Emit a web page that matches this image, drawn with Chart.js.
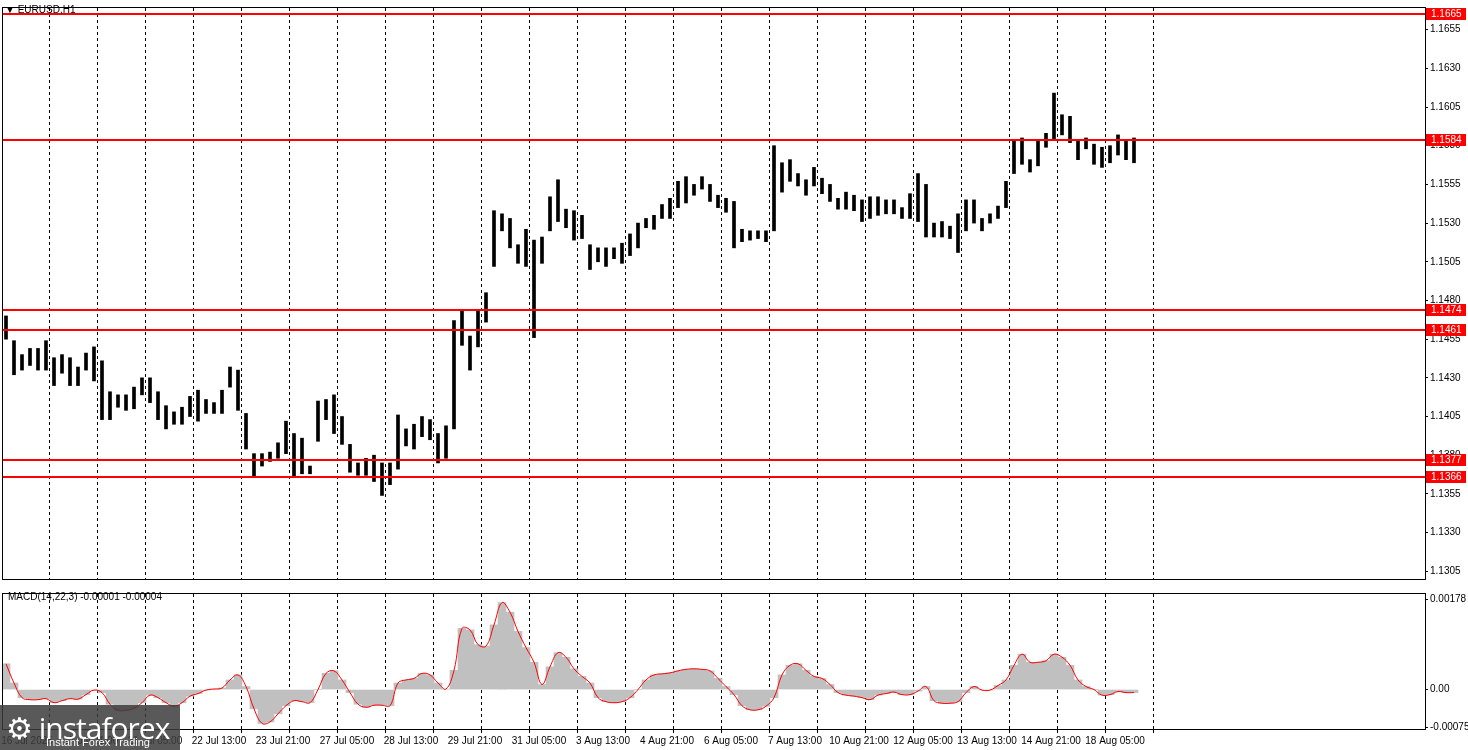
<!DOCTYPE html>
<html><head><meta charset="utf-8">
<script src="https://cdn.jsdelivr.net/npm/chart.js@4/dist/chart.umd.min.js"></script>
<style>
body{margin:0;background:#fff;width:1468px;height:750px;overflow:hidden;position:relative;font-family:"Liberation Sans",Arial,sans-serif}
#p1{position:absolute;left:0;top:0;width:1468px;height:587px}
#p2{position:absolute;left:0;top:586px;width:1468px;height:164px}
.t{position:absolute;font-size:10px;color:#000}
#logo{position:absolute;left:0;top:705px;width:180px;height:45px;background:rgba(60,60,60,0.85);color:#fff}
</style></head><body>
<div id="p1"><canvas id="c1"></canvas></div>
<div id="p2"><canvas id="c2"></canvas></div>
<div class="t" style="left:5px;top:4px">▼ EURUSD,H1</div>
<div class="t" style="left:8px;top:591px">MACD(14,22,3) -0.00001 -0.00004</div>
<div id="logo"><div style="position:absolute;left:6px;top:2px;font-size:30px;letter-spacing:-1px;font-family:'Open Sans',sans-serif">⚙ instaforex</div><div style="position:absolute;left:46px;top:31px;font-size:11px">Instant Forex Trading</div></div>
<script>
const highs=[1.1470,1.1454,1.1445,1.1449,1.1449,1.1454,1.1443,1.1445,1.1443,1.1437,1.1446,1.1450,1.1441,1.1421,1.1419,1.1419,1.1424,1.1430,1.1430,1.1421,1.1412,1.1408,1.1411,1.1418,1.1422,1.1416,1.1414,1.1422,1.1437,1.1435,1.1407,1.1381,1.1381,1.1382,1.1388,1.1402,1.1394,1.1391,1.1373,1.1415,1.1416,1.1419,1.1405,1.1387,1.1375,1.1378,1.1380,1.1375,1.1375,1.1406,1.1397,1.1400,1.1405,1.1403,1.1394,1.1399,1.1467,1.1474,1.1457,
1.1473,1.1485,1.1538,1.1536,1.1533,1.1516,1.1526,1.1519,1.1521,1.1547,1.1558,1.1539,1.1538,1.1535,1.1516,1.1514,1.1514,1.1514,1.1517,1.1523,1.1530,1.1533,1.1535,1.1542,1.1546,1.1557,1.1560,1.1555,1.1560,1.1555,1.1548,1.1546,1.1544,1.1526,1.1525,1.1525,1.1525,1.1580,1.1569,1.1571,1.1562,1.1558,1.1566,1.1559,1.1555,1.1546,
1.1550,1.1548,1.1545,1.1547,1.1547,1.1545,1.1545,1.1540,1.1549,1.1562,1.1555,1.1530,1.1531,1.1528,1.1536,1.1545,1.1545,1.1533,1.1536,1.1541,1.1557,1.1584,1.1585,1.1571,1.1583,1.1588,1.1614,1.1600,1.1599,1.1583,1.1585,1.1581,1.1579,1.1580,1.1587,1.1584,1.1585];
const lows=[1.1455,1.1432,1.1435,1.1438,1.1435,1.1435,1.1425,1.1433,1.1425,1.1425,1.1435,1.1428,1.1403,1.1403,1.1411,1.1409,1.1410,1.1419,1.1414,1.1403,1.1397,1.1400,1.1400,1.1405,1.1402,1.1407,1.1407,1.1407,1.1424,1.1409,1.1384,1.1366,1.1373,1.1376,1.1378,1.1381,1.1366,1.1368,1.1368,1.1389,1.1403,1.1394,1.1387,1.1369,1.1367,1.1367,1.1363,1.1354,1.1361,1.1371,1.1386,1.1384,1.1392,1.1390,1.1375,1.1378,1.1397,1.1451,1.1435,
1.1450,1.1466,1.1502,1.1525,1.1514,1.1504,1.1502,1.1456,1.1504,1.1525,1.1531,1.1527,1.1519,1.1520,1.1500,1.1505,1.1502,1.1507,1.1504,1.1509,1.1514,1.1527,1.1526,1.1533,1.1533,1.1540,1.1543,1.1548,1.1552,1.1544,1.1540,1.1537,1.1514,1.1518,1.1519,1.1520,1.1518,1.1525,1.1550,1.1557,1.1554,1.1548,1.1554,1.1549,1.1544,1.1539,
1.1539,1.1538,1.1531,1.1533,1.1535,1.1536,1.1536,1.1533,1.1533,1.1531,1.1521,1.1521,1.1521,1.1520,1.1511,1.1525,1.1530,1.1525,1.1530,1.1533,1.1540,1.1562,1.1568,1.1563,1.1567,1.1579,1.1584,1.1587,1.1582,1.1571,1.1578,1.1568,1.1566,1.1569,1.1574,1.1571,1.1569];
const macd=[51,13,-16,-20,-20,-18,-26,-22,-18,-19,-10,-1,-6,-29,-41,-41,-37,-26,-11,-16,-26,-33,-26,-13,-8,-1,1,3,19,29,6,-38,-67,-64,-48,-32,-22,-24,-26,0,32,37,19,-6,-29,-35,-31,-31,-32,13,19,22,32,29,13,1,38,121,118,89,86,128,172,153,115,83,54,10,45,73,64,41,26,13,-16,-24,-26,-24,-16,0,19,29,31,33,37,40,41,40,37,22,6,-10,
-32,-40,-40,-33,-16,29,48,51,38,26,22,10,-6,-11,-13,-16,-20,-11,-8,-5,-10,-10,-3,6,-22,-27,-27,-24,-6,6,-1,-1,8,19,48,70,54,54,57,70,64,48,19,6,0,-11,-10,-4,-6,-6];
const levels=[1.1665,1.1584,1.1474,1.1461,1.1377,1.1366];
const priceTicks=[1.1305,1.1330,1.1355,1.1380,1.1405,1.1430,1.1455,1.1480,1.1505,1.1530,1.1555,1.1580,1.1605,1.1630,1.1655];
const macdTicks=[-0.00075,0,0.00178];
const dateLabels=["16 Jul 2025","17 Jul 21:00","21 Jul 05:00","22 Jul 13:00","23 Jul 21:00","27 Jul 05:00","28 Jul 13:00","29 Jul 21:00","31 Jul 05:00","3 Aug 13:00","4 Aug 21:00","6 Aug 05:00","7 Aug 13:00","10 Aug 21:00","12 Aug 05:00","13 Aug 13:00","14 Aug 21:00","18 Aug 05:00"];
const labelStart=12, labelStep=32, gridStart=11, gridStep=24, gridCount=25, barStep=4;

const gridIdx=[];for(let k=0;k<gridCount;k++)gridIdx.push(gridStart+k*gridStep);
const labIdx=dateLabels.map((_,k)=>labelStart+k*labelStep);
const F={family:"Liberation Sans",size:10};
const frame={id:'frame',afterDraw(c){const a=c.chartArea,x=c.ctx;x.save();x.strokeStyle='#000';x.lineWidth=1;x.strokeRect(a.left-0.5,a.top-0.5,a.right-a.left+1,a.bottom-a.top+1);x.restore();}};
const lvl={id:'lvl',afterDatasetsDraw(c){const a=c.chartArea,x=c.ctx,s=c.scales.y;x.save();x.strokeStyle='#ff0000';x.lineWidth=2;
 levels.forEach(v=>{const y=Math.round(s.getPixelForValue(v));x.beginPath();x.moveTo(a.left,y);x.lineTo(a.right,y);x.stroke();});x.restore();},
 afterDraw(c){const a=c.chartArea,x=c.ctx,s=c.scales.y;x.save();x.font="10px Liberation Sans";x.textBaseline='middle';
 levels.forEach(v=>{const y=Math.round(s.getPixelForValue(v));x.fillStyle='#ff0000';x.fillRect(a.right+1,y-6,40,12);x.fillStyle='#fff';x.fillText(v.toFixed(4),a.right+6,y+0.5);});x.restore();}};
const xCommon=(ticksArr,showLab)=>({type:'linear',min:0,max:711,offset:false,
 afterBuildTicks:s=>{s.ticks=ticksArr.map(v=>({value:v}));},
 grid:{color:ctx=>gridIdx.includes(ctx.tick&&ctx.tick.value)?'#000':'rgba(0,0,0,0)',lineWidth:1,tickLength:showLab?4:0,drawTicks:showLab},
 border:{display:false,dash:[3,3]},
 ticks:{display:showLab,autoSkip:false,maxRotation:0,font:F,color:'#000',padding:2,
   callback:v=>{const k=labIdx.indexOf(v);return k>=0?dateLabels[k]:'';}}});
function dashGrid(o){o.grid.borderDash=[3,3];return o;}
const bars=highs.map((h,k)=>({x:k*barStep+1.5,y:[lows[k],h]}));
new Chart(document.getElementById('c1'),{type:'bar',
 data:{datasets:[{data:bars,backgroundColor:'#000',barThickness:3,grouped:false}]},
 options:{animation:false,responsive:true,maintainAspectRatio:false,layout:{padding:{left:3,top:3,bottom:1,right:0}},
  plugins:{legend:{display:false},tooltip:{enabled:false}},
  scales:{x:Object.assign(xCommon(gridIdx,false),{afterFit:s=>{s.height=0;}}),
   y:{position:'right',min:1.1300,max:1.1669,afterBuildTicks:s=>{s.ticks=priceTicks.map(v=>({value:v}));},
    afterFit:s=>{s.width=43;},grid:{drawOnChartArea:false,color:'#000',tickLength:3},border:{color:'#000'},
    ticks:{font:F,color:'#000',padding:2,callback:v=>v.toFixed(4)}}}},
 plugins:[frame,lvl]});
const xs=macd.map((_,k)=>k*barStep+1.5);
new Chart(document.getElementById('c2'),{type:'bar',
 data:{datasets:[
  {type:'line',data:macd.map((v,k)=>({x:xs[k],y:v/100000})),borderColor:'#ff0000',borderWidth:1,pointRadius:0,tension:0.4},
  {data:macd.map((v,k)=>({x:xs[k],y:v/100000})),backgroundColor:'#c0c0c0',barThickness:8,grouped:false}]},
 options:{animation:false,responsive:true,maintainAspectRatio:false,layout:{padding:{left:3,top:2,bottom:0,right:0}},
  plugins:{legend:{display:false},tooltip:{enabled:false}},
  scales:{x:Object.assign(xCommon(gridIdx.concat(labIdx.filter(v=>!gridIdx.includes(v))),true),{afterFit:s=>{s.height=21;}}),
   y:{position:'right',min:-0.00078,max:0.00189,afterBuildTicks:s=>{s.ticks=macdTicks.map(v=>({value:v}));},
    afterFit:s=>{s.width=43;},grid:{drawOnChartArea:false,color:'#000',tickLength:3},border:{color:'#000'},
    ticks:{font:F,color:'#000',padding:2,callback:v=>v===0?'0.00':v.toFixed(5)}}}},
 plugins:[frame]});
</script></body></html>
